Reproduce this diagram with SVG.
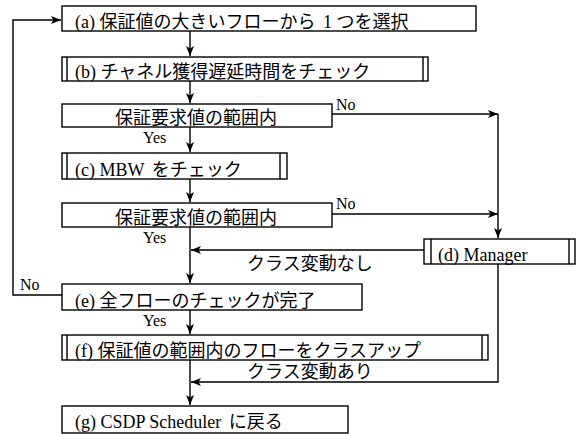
<svg xmlns="http://www.w3.org/2000/svg" width="576" height="434" viewBox="0 0 576 434">
<defs>
<style>
.box{fill:#fff;stroke:#000;stroke-width:1.4}
.in{stroke:#000;stroke-width:1.4;fill:none}
.t{font-family:"Liberation Serif","Noto Sans CJK JP",serif;font-size:18px;fill:#000}
.l{font-family:"Liberation Serif",serif;font-size:16px;fill:#000}
.c{fill:none;stroke:#000;stroke-width:1.4}
</style>
<marker id="ah" markerUnits="userSpaceOnUse" markerWidth="12" markerHeight="9" refX="10" refY="4" orient="auto">
<path d="M0,0 L10,4 L0,8 L2.5,4 Z" fill="#000"/>
</marker>
</defs>
<g id="connectors">
<path class="c" d="M190,31 V56" marker-end="url(#ah)"/>
<path class="c" d="M190,81 V103" marker-end="url(#ah)"/>
<path class="c" d="M190,127 V152" marker-end="url(#ah)"/>
<path class="c" d="M190,179 V202" marker-end="url(#ah)"/>
<path class="c" d="M190,227 V283" marker-end="url(#ah)"/>
<path class="c" d="M190,310 V334" marker-end="url(#ah)"/>
<path class="c" d="M190,360 V405" marker-end="url(#ah)"/>
<path class="c" d="M332,114 H498" marker-end="url(#ah)"/>
<path class="c" d="M498,114 V238" marker-end="url(#ah)"/>
<path class="c" d="M332,214 H498" marker-end="url(#ah)"/>
<path class="c" d="M424,250 H191" marker-end="url(#ah)"/>
<path class="c" d="M498,264 V382 H191" marker-end="url(#ah)"/>
<path class="c" d="M62,295 H13 V20 H61" marker-end="url(#ah)"/>
<text class="l" x="143" y="143">Yes</text>
<text class="l" x="143" y="243">Yes</text>
<text class="l" x="143" y="326">Yes</text>
<text class="l" x="336" y="110">No</text>
<text class="l" x="336" y="209">No</text>
<text class="l" x="20" y="290">No</text>
<text class="t" x="247" y="270">クラス変動なし</text>
<text class="t" x="247" y="378">クラス変動あり</text>
</g>
<g id="a">
<rect class="box" x="62" y="6" width="414" height="25"/>
<text class="t" x="75" y="28">(a) 保証値の大きいフローから<tspan dx="3"> 1 </tspan>つを選択</text>
</g>
<g id="b">
<rect class="box" x="62" y="57" width="366" height="24"/>
<path class="in" d="M67,57 V81 M423,57 V81"/>
<text class="t" x="75" y="78">(b) チャネル獲得遅延時間をチェック</text>
</g>
<g id="check1">
<rect class="box" x="62" y="104" width="270" height="23"/>
<text class="t" x="115" y="124">保証要求値の範囲内</text>
</g>
<g id="c">
<rect class="box" x="62" y="153" width="225" height="26"/>
<path class="in" d="M67,153 V179 M280,153 V179"/>
<text class="t" x="75" y="176">(c) MBW <tspan dx="3">をチェック</tspan></text>
</g>
<g id="check2">
<rect class="box" x="62" y="203" width="270" height="24"/>
<text class="t" x="115" y="224">保証要求値の範囲内</text>
</g>
<g id="d">
<rect class="box" x="424" y="239" width="151" height="25"/>
<path class="in" d="M431,239 V264 M569,239 V264"/>
<text class="t" x="438" y="261">(d) Manager</text>
</g>
<g id="e">
<rect class="box" x="62" y="284" width="300" height="26"/>
<text class="t" x="75" y="307">(e) 全フローのチェックが完了</text>
</g>
<g id="f">
<rect class="box" x="62" y="335" width="426" height="25"/>
<path class="in" d="M67,335 V360 M482,335 V360"/>
<text class="t" x="75" y="357">(f) 保証値の範囲内のフローをクラスアップ</text>
</g>
<g id="g">
<rect class="box" x="62" y="406" width="286" height="27"/>
<text class="t" x="75" y="428">(g) CSDP Scheduler <tspan dx="3">に戻る</tspan></text>
</g>
</svg>
